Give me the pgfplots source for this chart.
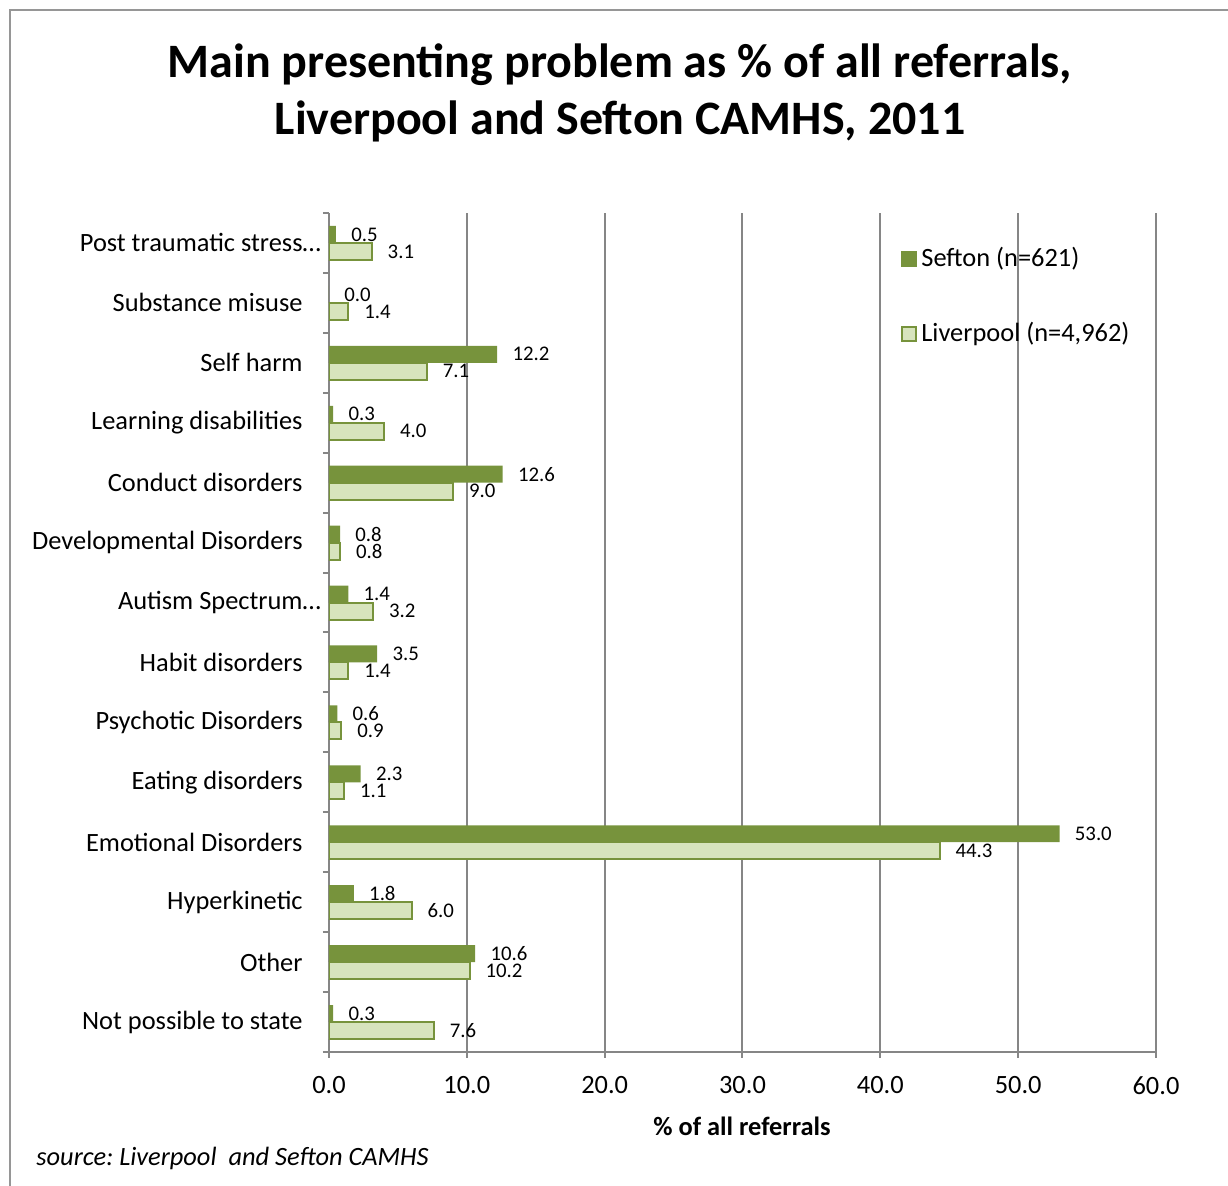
\documentclass[border=0pt]{standalone}
\usepackage{pgfplots}
\pgfplotsset{compat=1.18}
\usepackage{fontspec}
\setmainfont{Carlito}
\definecolor{sefton}{RGB}{119,147,60}
\definecolor{liverpool}{RGB}{215,228,189}
\definecolor{gridgray}{RGB}{134,134,134}
\definecolor{framegray}{RGB}{150,150,150}
\newcommand{\lbl}{\fontsize{13.2}{16}\selectfont}
\frenchspacing

\begin{document}
\begin{tikzpicture}
\path[use as bounding box] (0,0) rectangle (614pt,-593pt);
\draw[framegray, line width=1pt] (5pt,-593pt) -- (5pt,-5pt) -- (614pt,-5pt);
\node[font=\fontsize{24}{28}\selectfont\bfseries, anchor=base] at (310pt,-39pt)
  {Main presenting problem as \% of all referrals,};
\node[font=\fontsize{24}{28}\selectfont\bfseries, anchor=base] at (310pt,-67.5pt)
  {Liverpool and Sefton CAMHS, 2011};
\begin{axis}[
  at={(164.5pt,-526pt)}, anchor=south west,
  scale only axis, width=413.5pt, height=419.5pt,
  xbar, bar width=0.283,
  xmin=0, xmax=60, ymin=-0.5, ymax=13.5,
  xtick={0,10,...,60},
  axis lines*=left,
  axis line style={gridgray, line width=1pt},
  xmajorgrids, grid style={gridgray, line width=1pt},
  tick align=outside, major tick length=3pt,
  tick style={gridgray, line width=1pt},
  x tick label style={font=\lbl, anchor=north, inner sep=0pt, yshift=-9pt},
  ytick={-0.5,0.5,...,13.5}, yticklabels={},
  extra y ticks={0,1,...,13},
  extra y tick labels={Not possible to state, Other, Hyperkinetic,
    Emotional Disorders, Eating disorders, Psychotic Disorders,
    Habit disorders, Autism Spectrum\rlap{…}, Developmental Disorders,
    Conduct disorders, Learning disabilities, Self harm,
    Substance misuse, Post traumatic stress\rlap{…}},
  extra y tick style={tick style={draw=none}},
  y tick label style={font=\lbl, anchor=east, inner sep=0pt, xshift=-10pt},
  point meta=x,
  nodes near coords,
  every node near coord/.append style={font=\fontsize{10.4}{12}\selectfont,
    anchor=west, inner sep=0pt, xshift=7.5pt, black},
  legend style={at={(axis cs:41.5,13.0)}, anchor=north west, draw=none,
    fill=none, font=\lbl, row sep=22.5pt, inner sep=0pt},
  legend cell align=left,
  /pgf/number format/.cd, fixed, fixed zerofill, precision=1,
  assume math mode=true,
]
\addplot[fill=sefton, draw=none, bar shift=0.142,
  legend image code/.code={\fill[sefton] (0pt,-4pt) rectangle (8pt,4pt);}]
  coordinates {(0.3,0) (10.6,1) (1.8,2) (53.0,3) (2.3,4) (0.6,5) (3.5,6)
    (1.4,7) (0.8,8) (12.6,9) (0.3,10) (12.2,11) (0.0,12) (0.5,13)};
\addlegendentry{Sefton (n=621)}
\addplot[fill=liverpool, draw=sefton, line width=1pt, bar shift=-0.142,
  legend image code/.code={\draw[fill=liverpool, draw=sefton, line width=1pt]
    (0.5pt,-3.5pt) rectangle (7.5pt,3.5pt);}]
  coordinates {(7.6,0) (10.2,1) (6.0,2) (44.3,3) (1.1,4) (0.9,5) (1.4,6)
    (3.2,7) (0.8,8) (9.0,9) (4.0,10) (7.1,11) (1.4,12) (3.1,13)};
\addlegendentry{Liverpool (n=4,962)}
\end{axis}
\node[anchor=base, font=\lbl\bfseries] at (371pt,-568pt) {\% of all referrals};
\node[anchor=base west, inner sep=0pt, font=\lbl\itshape] at (18pt,-583pt)
  {source: Liverpool\ \ and Sefton CAMHS};
\end{tikzpicture}
\end{document}
